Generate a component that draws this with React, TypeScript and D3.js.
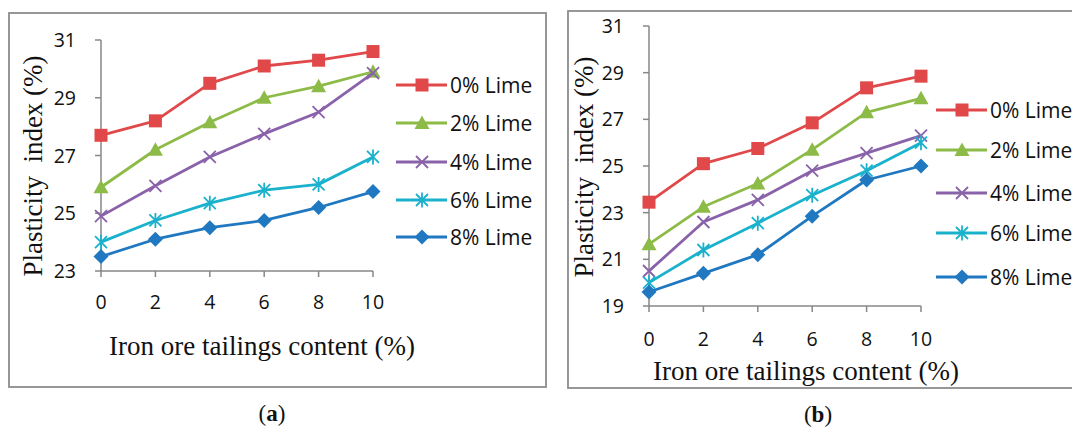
import React from "react";
import * as d3 from "d3";

// Iron ore tailings content (%) on the category axis
const tailings = [0, 2, 4, 6, 8, 10];
const seriesNames = ["0% Lime", "2% Lime", "4% Lime", "6% Lime", "8% Lime"];

// Panel (a): plasticity index (%)
const lime0A = [27.7, 28.2, 29.5, 30.1, 30.3, 30.6];
const lime2A = [25.9, 27.2, 28.15, 29.0, 29.4, 29.9];
const lime4A = [24.9, 25.95, 26.95, 27.75, 28.5, 29.85];
const lime6A = [24.0, 24.75, 25.35, 25.8, 26.0, 26.95];
const lime8A = [23.5, 24.1, 24.5, 24.75, 25.2, 25.75];

// Panel (b): plasticity index (%)
const lime0B = [23.45, 25.1, 25.75, 26.85, 28.35, 28.85];
const lime2B = [21.65, 23.25, 24.25, 25.7, 27.3, 27.9];
const lime4B = [20.5, 22.6, 23.55, 24.8, 25.55, 26.3];
const lime6B = [20.0, 21.4, 22.55, 23.75, 24.8, 26.0];
const lime8B = [19.6, 20.4, 21.2, 22.85, 24.4, 25.0];

const yTicksA = [23, 25, 27, 29, 31];
const yTicksB = [19, 21, 23, 25, 27, 29, 31];

const colors = ["#E0484A", "#8DBB47", "#8A62AA", "#1AB1CC", "#1F78C0"];
const markers = ["square", "triangle", "cross", "star", "diamond"];

const SANS = "'Open Sans', 'Noto Sans', sans-serif";
const SERIF = "'Liberation Serif', 'DejaVu Serif', serif";
const AXIS = "#878787";

function Marker({ kind, x, y, color }: { kind: string; x: number; y: number; color: string }) {
  if (kind === "square") {
    return <rect x={x - 6.5} y={y - 6.5} width={13} height={13} fill={color} />;
  }
  if (kind === "triangle") {
    return <path d={`M${x},${y - 7.5}L${x + 7.5},${y + 6}L${x - 7.5},${y + 6}Z`} fill={color} />;
  }
  if (kind === "diamond") {
    return <path d={`M${x},${y - 7.5}L${x + 7.5},${y}L${x},${y + 7.5}L${x - 7.5},${y}Z`} fill={color} />;
  }
  const r = 6;
  const cross = `M${x - r},${y - r}L${x + r},${y + r}M${x - r},${y + r}L${x + r},${y - r}`;
  const d = kind === "star" ? `${cross}M${x},${y - r - 1.5}L${x},${y + r + 1.5}` : cross;
  return <path d={d} stroke={color} strokeWidth={1.8} fill="none" />;
}

type PanelProps = {
  series: number[][];
  yTicks: number[];
  x0: number;
  x1: number;
  yTop: number;
  yBottom: number;
  frame: { x: number; y: number; w: number; h: number };
  tickLabelY: number;
  xTitleX: number;
  xTitleY: number;
  yTitleX: number;
  yTitleY: number;
  legendX: number;
  legendRows: number[];
  caption: string;
  captionX: number;
  captionY: number;
};

function Panel(p: PanelProps) {
  const x = d3.scaleLinear().domain([0, 10]).range([p.x0, p.x1]);
  const y = d3
    .scaleLinear()
    .domain([d3.min(p.yTicks) as number, d3.max(p.yTicks) as number])
    .range([p.yBottom, p.yTop]);
  const line = d3
    .line<number>()
    .x((_, i) => x(tailings[i]))
    .y((v) => y(v));

  return (
    <g>
      <rect
        x={p.frame.x}
        y={p.frame.y}
        width={p.frame.w}
        height={p.frame.h}
        fill="#fff"
        stroke="#8c8c8c"
        strokeWidth={1.8}
      />
      {/* value axis */}
      <line x1={p.x0} x2={p.x0} y1={p.yTop} y2={p.yBottom} stroke={AXIS} strokeWidth={1.5} />
      {p.yTicks.map((t) => (
        <g key={t}>
          <line x1={p.x0 - 6} x2={p.x0} y1={y(t)} y2={y(t)} stroke={AXIS} strokeWidth={1.5} />
          <text
            x={p.x0 - 25}
            y={y(t)}
            dy="0.36em"
            textAnchor="end"
            fontFamily={SANS}
            fontSize={19.5}
            fill="#111"
          >
            {t}
          </text>
        </g>
      ))}
      {/* category axis */}
      <line x1={p.x0} x2={p.x1} y1={p.yBottom} y2={p.yBottom} stroke={AXIS} strokeWidth={1.5} />
      {tailings.map((t) => (
        <g key={t}>
          <line x1={x(t)} x2={x(t)} y1={p.yBottom} y2={p.yBottom + 6} stroke={AXIS} strokeWidth={1.5} />
          <text
            x={x(t)}
            y={p.tickLabelY}
            textAnchor="middle"
            fontFamily={SANS}
            fontSize={19.5}
            fill="#111"
          >
            {t}
          </text>
        </g>
      ))}
      {/* series */}
      {p.series.map((vals, si) => (
        <g key={si}>
          <path d={line(vals) || ""} fill="none" stroke={colors[si]} strokeWidth={2.8} strokeLinejoin="round" />
          {vals.map((v, i) => (
            <Marker key={i} kind={markers[si]} x={x(tailings[i])} y={y(v)} color={colors[si]} />
          ))}
        </g>
      ))}
      {/* legend */}
      {seriesNames.map((name, si) => (
        <g key={name}>
          <line
            x1={p.legendX}
            x2={p.legendX + 51}
            y1={p.legendRows[si]}
            y2={p.legendRows[si]}
            stroke={colors[si]}
            strokeWidth={2.8}
          />
          <Marker kind={markers[si]} x={p.legendX + 26} y={p.legendRows[si]} color={colors[si]} />
          <text
            x={p.legendX + 54}
            y={p.legendRows[si]}
            dy="0.36em"
            fontFamily={SANS}
            fontSize={21}
            fill="#111"
          >
            {name}
          </text>
        </g>
      ))}
      {/* axis titles */}
      <text
        x={p.xTitleX}
        y={p.xTitleY}
        textAnchor="middle"
        fontFamily={SERIF}
        fontSize={27}
        fill="#111"
      >
        Iron ore tailings content (%)
      </text>
      <text
        transform={`translate(${p.yTitleX},${p.yTitleY}) rotate(-90)`}
        textAnchor="middle"
        fontFamily={SERIF}
        fontSize={27}
        fill="#111"
        style={{ whiteSpace: "pre" }}
      >
        {"Plasticity  index (%)"}
      </text>
      {/* caption */}
      <text x={p.captionX} y={p.captionY} textAnchor="middle" fontFamily={SERIF} fontSize={23} fill="#111">
        (<tspan fontWeight="bold">{p.caption}</tspan>)
      </text>
    </g>
  );
}

export default function App() {
  return (
    <svg
      width={1072}
      height={430}
      style={{ position: "absolute", left: 0, top: 0, background: "#fff" }}
    >
      <rect width={1072} height={430} fill="#fff" />
      <Panel
        series={[lime0A, lime2A, lime4A, lime6A, lime8A]}
        yTicks={yTicksA}
        x0={101}
        x1={373}
        yTop={40}
        yBottom={271}
        frame={{ x: 9, y: 13, w: 537, h: 374 }}
        tickLabelY={309}
        xTitleX={262}
        xTitleY={355}
        yTitleX={42}
        yTitleY={166}
        legendX={396}
        legendRows={[85, 123, 162, 200, 237]}
        caption="a"
        captionX={272}
        captionY={421}
      />
      <Panel
        series={[lime0B, lime2B, lime4B, lime6B, lime8B]}
        yTicks={yTicksB}
        x0={649}
        x1={921}
        yTop={26}
        yBottom={306}
        frame={{ x: 568, y: 11, w: 540, h: 377 }}
        tickLabelY={346}
        xTitleX={806}
        xTitleY={380}
        yTitleX={593}
        yTitleY={167}
        legendX={936}
        legendRows={[110, 150, 193, 233, 277]}
        caption="b"
        captionX={818}
        captionY={422}
      />
    </svg>
  );
}
